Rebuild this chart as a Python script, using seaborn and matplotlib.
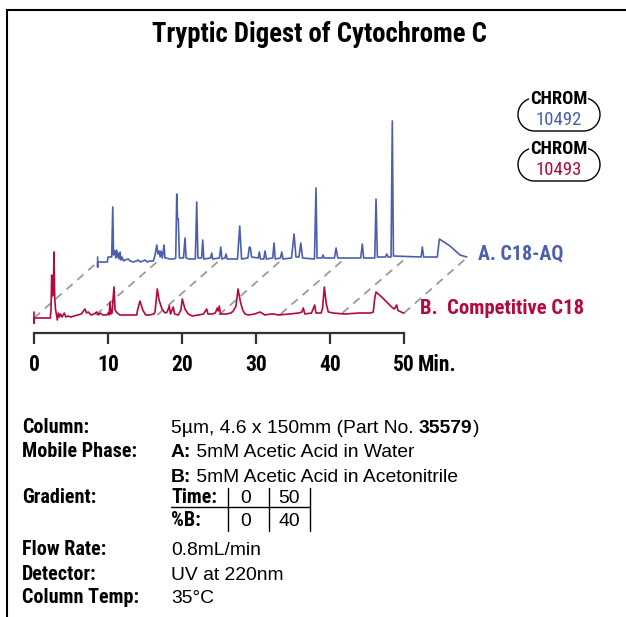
import numpy as np
import pandas as pd
import matplotlib
matplotlib.use("Agg")
import matplotlib.pyplot as plt
import seaborn as sns
from matplotlib import font_manager as fm

# ---- chromatogram data -------------------------------------------------
# Trace B: Competitive C18 (time in min, detector response)
b_time = [0, 0, 0, 2.2, 2.3, 2.39, 2.5, 2.62, 2.7, 2.8, 2.9, 3.0, 3.15, 3.3, 3.45, 3.6,
          3.8, 4.09, 4.3, 4.6, 5.0, 5.4, 5.9, 6.4, 6.89, 7.1, 7.34, 7.7, 8.1, 8.47, 8.7,
          8.92, 9.3, 9.8, 10.04, 10.15, 10.27, 10.4, 10.55, 10.81, 10.95, 11.26, 11.6,
          12.5, 13.4, 13.88, 14.0, 14.32, 14.7, 15.09, 15.6, 16.2, 16.35, 16.66, 16.9,
          17.3, 17.7, 18.0, 18.28, 18.45, 18.82, 19.0, 19.5, 19.85, 20.04, 20.4, 20.85,
          21.4, 22.2, 22.9, 23.34, 23.5, 24.1, 24.5, 24.77, 24.9, 25.04, 25.2, 26.0,
          26.6, 26.93, 27.3, 27.57, 27.9, 28.2, 28.51, 29.0, 29.8, 30.54, 31.2, 32.0,
          32.43, 33.0, 34.5, 35.8, 36.2, 36.39, 36.6, 37.5, 37.93, 38.1, 38.8, 39.0,
          39.23, 39.5, 39.77, 40.41, 42.0, 44.0, 45.5, 45.85, 46.05, 46.22, 46.99,
          47.66, 48.34, 48.69, 49.01, 49.15, 49.32, 49.91, 50.0]
b_signal = [6, -5, 0, 0, 8, 43, 22, 30, 66, 20, 9, 5, -2, 5, 1, 4,
            1, 5, 1, 2, 1, 2, 3, 4, 9, 5, 6, 3, 4, 6, 3,
            5, 3, 3, 5, 3, 16, 4, 5, 31, 8, 5, 3,
            3, 3, 3, 8, 17, 8, 3, 3, 4, 6, 29, 18,
            9, 5, 6, 12, 4, 11, 4, 3, 8, 19, 9, 4,
            2, 3, 4, 9, 4, 4, 5, 10, 7, 12, 4, 4,
            5, 7, 12, 29, 16, 8, 4, 3, 4, 6, 3, 4,
            4, 3, 4, 5, 6, 10, 4, 5, 13, 5, 5, 10,
            31, 14, 6, 5, 4, 5, 5, 6, 20, 26, 21,
            16, 11, 9, 13, 8, 7, 5, 5]

# Trace A: C18-AQ (time in min, detector response)
a_time = [0, 0, 0, 1.31, 1.4, 1.9, 2.04, 2.15, 2.25, 2.35, 2.45, 2.55, 2.65, 2.75, 2.89,
          3.03, 3.15, 3.3, 3.5, 3.7, 4.11, 4.4, 4.82, 5.2, 5.46, 5.8, 6.41, 6.7, 7.08,
          7.53, 7.76, 7.99, 8.15, 8.3, 8.45, 8.57, 8.75, 8.97, 9.1, 9.24, 9.78, 10.32,
          10.55, 10.69, 10.8, 10.9, 11.05, 11.6, 11.81, 11.95, 12.4, 13.2, 13.39, 13.55,
          14.05, 14.2, 14.35, 15.25, 15.42, 15.55, 16.45, 16.64, 16.8, 17.2, 17.35, 17.5,
          18.9, 19.2, 19.45, 20.3, 20.5, 20.65, 20.8, 21.7, 21.85, 22.0, 22.45, 22.62,
          22.8, 23.65, 23.84, 24.0, 24.7, 24.88, 25.05, 26.2, 26.54, 26.8, 27.2, 27.45,
          27.7, 29.3, 29.51, 29.65, 30.3, 30.46, 30.6, 32.0, 32.22, 32.45, 35.55, 35.77,
          35.95, 37.45, 37.62, 37.8, 38.9, 39.07, 39.25, 39.65, 39.82, 39.97, 43.7, 43.88,
          44.05, 45.9, 46.18, 47.62, 48.97, 49.88]
a_signal = [6, -4, 1, 1, 6, 6, 56, 8, 12, 11, 5, 13, 6, 10, 4,
            11, 3, 6, 2, 3, 4, 2, 1, 2, 3, 1, 3, 1, 2,
            2, 8, 18, 9, 12, 6, 12, 5, 18, 5, 5, 4, 4,
            5, 69, 44, 44, 5, 5, 25, 5, 4, 4, 61, 5,
            5, 23, 4, 5, 10, 4, 5, 16, 4, 5, 9, 4,
            4, 37, 4, 5, 16, 15, 6, 5, 11, 4, 4, 12,
            4, 5, 20, 4, 5, 11, 4, 5, 29, 6, 6, 20,
            5, 4, 75, 5, 5, 8, 5, 5, 15, 5, 5, 19,
            5, 5, 64, 6, 6, 9, 6, 6, 142, 7, 6, 16,
            6, 6, 24, 17, 8, 6]

# stacking offset of trace A behind trace B
a_time_shift = 8.6
a_signal_shift = 55

# dashed perspective guides joining the two baselines
guide_times = [0, 8.33, 16.67, 25, 33.33, 41.67, 50]
guide_base_b = [0, 3, 3, 3, 4, 5, 5]
guide_base_a = [1, 3, 4, 4, 4, 5, 6]

x_ticks = [0, 10, 20, 30, 40, 50]

grad_time = [0, 50]
grad_pct_b = [0, 40]

BLUE = "#4c5fae"
RED = "#b20a3a"


def pick_family(candidates, fallback):
    have = {f.name for f in fm.fontManager.ttflist}
    for c in candidates:
        if c in have:
            return c
    return fallback


NARROW = pick_family(["Roboto Condensed", "Archivo Narrow", "PT Sans Narrow",
                      "Liberation Sans Narrow", "Fira Sans Condensed",
                      "IBM Plex Sans Condensed", "Encode Sans Condensed",
                      "Barlow Semi Condensed", "Roboto"], "DejaVu Sans")
REG = pick_family(["Liberation Sans", "Arimo"], "DejaVu Sans")

sns.set_theme(style="white")
plt.rcParams["font.family"] = [NARROW, "DejaVu Sans"]
plt.rcParams["text.color"] = "black"
plt.rcParams["xtick.color"] = "black"

W, H = 626, 617
fig = plt.figure(figsize=(W / 100, H / 100), dpi=100)

# pixel-space overlay for frame and text
ov = fig.add_axes([0, 0, 1, 1])
ov.set_xlim(0, W)
ov.set_ylim(H, 0)
ov.axis("off")

# chromatogram axes
px_per_min = 7.4
x0_px = 34
left_px, right_px, top_px, bot_px = 20, 600, 100, 333
ax = fig.add_axes([left_px / W, 1 - bot_px / H, (right_px - left_px) / W, (bot_px - top_px) / H])
ax.patch.set_visible(False)
ax.set_xlim((left_px - x0_px) / px_per_min, (right_px - x0_px) / px_per_min)
ax.set_ylim(-15, 318 - top_px)

trace_b = pd.DataFrame({"time": b_time, "signal": b_signal, "column": "B"})
trace_a = pd.DataFrame({"time": np.array(a_time) + a_time_shift,
                        "signal": np.array(a_signal) + a_signal_shift, "column": "A"})
traces = pd.concat([trace_a, trace_b], ignore_index=True)

for i, t in enumerate(guide_times):
    ax.plot([t, t + a_time_shift], [guide_base_b[i], guide_base_a[i] + a_signal_shift],
            color="#9a9a9a", lw=1.3, ls=(0, (4.5, 3.5)), zorder=1)

sns.lineplot(data=traces, x="time", y="signal", hue="column", units="column",
             estimator=None, sort=False, palette={"A": BLUE, "B": RED},
             linewidth=1.2, legend=False, ax=ax, zorder=3)

for s in ["top", "right", "left"]:
    ax.spines[s].set_visible(False)
ax.spines["bottom"].set_bounds(0, 50)
ax.spines["bottom"].set_color("#333333")
ax.spines["bottom"].set_linewidth(1.6)
ax.set_xticks(x_ticks)
ax.set_xticklabels([str(v) for v in x_ticks])
ax.set_yticks([])
ax.set_xlabel("")
ax.set_ylabel("")
ax.tick_params(axis="x", direction="out", length=8, width=1.6, color="#333333",
               pad=7, labelsize=15.5, bottom=True, labelcolor="black")
for lab in ax.get_xticklabels():
    lab.set_fontweight("bold")
ov.text(418, 371, "Min.", fontsize=15.5, fontweight="bold", ha="left", va="baseline")

# frame
ov.plot([7, 7], [10, H], color="black", lw=1.5)
ov.plot([7, W], [10, 10], color="black", lw=1.5)

# title
ov.text(319, 42, "Tryptic Digest of Cytochrome C", fontsize=19.3, fontweight="bold",
        ha="center", va="baseline")

# trace labels
ov.text(478, 260, "A. C18-AQ", fontsize=14.4, fontweight="bold", color=BLUE, va="baseline")
ov.text(420, 314, "B.  Competitive C18", fontsize=14.9, fontweight="bold", color=RED, va="baseline")


# CHROM badges: stadium outline with the caption sitting on its top edge
def stadium(x0, y0, w, h):
    r = h / 2
    a1 = np.linspace(-np.pi / 2, np.pi / 2, 40)
    a2 = np.linspace(np.pi / 2, 3 * np.pi / 2, 40)
    xs = np.concatenate([x0 + w - r + r * np.cos(a1), x0 + r + r * np.cos(a2), [x0 + w - r]])
    ys = np.concatenate([y0 + r + r * np.sin(a1), y0 + r + r * np.sin(a2), [y0]])
    return xs, ys


for yc, num, col in [(98, "10492", BLUE), (148, "10493", RED)]:
    xs, ys = stadium(518, yc, 82, 33)
    ov.plot(xs, ys, color="black", lw=1.0)
    ov.text(558.5, yc + 6, "CHROM", fontsize=13.3, fontweight="bold", ha="center", va="baseline",
            bbox=dict(fc="white", ec="none", pad=0.5))
    ov.text(559, yc + 27, num, fontsize=13.5, color=col, ha="center", va="baseline")

# method details
lab_x, val_x = 22, 171
lfs, vfs = 14.5, 13.9
rows = [(433, "Column:"), (457, "Mobile Phase:"), (503, "Gradient:"),
        (555, "Flow Rate:"), (580, "Detector:"), (603, "Column Temp:")]
for y, s in rows:
    ov.text(lab_x, y, s, fontsize=lfs, fontweight="bold", va="baseline")

fig.canvas.draw()
rend = fig.canvas.get_renderer()


def val(x, y, s, bold=False, ha="left"):
    return ov.text(x, y, s, fontsize=vfs, va="baseline", ha=ha, family=REG,
                   fontweight="bold" if bold else "normal")


def run(x, y, parts):
    # write consecutive text pieces, each starting where the previous one ends
    for s, bold in parts:
        t = val(x, y, s, bold)
        bb = t.get_window_extent(rend)
        x = ov.transData.inverted().transform((bb.x1, 0))[0]


run(val_x, 433, [("5µm, 4.6 x 150mm (Part No. ", False), ("35579", True), (")", False)])
run(val_x, 457, [("A:", True), (" 5mM Acetic Acid in Water", False)])
run(val_x, 482, [("B:", True), (" 5mM Acetic Acid in Acetonitrile", False)])

# gradient table
ov.text(val_x, 503, "Time:", fontsize=lfs, fontweight="bold", va="baseline")
ov.text(val_x, 526, "%B:", fontsize=lfs, fontweight="bold", va="baseline")
col_x = [246, 289]
for cx, tv, pv in zip(col_x, grad_time, grad_pct_b):
    val(cx, 503, str(tv), ha="center")
    val(cx, 526, str(pv), ha="center")
ov.plot([171, 310], [507, 507], color="black", lw=1.0)
for vx in [228, 268.5, 310]:
    ov.plot([vx, vx], [488, 531], color="black", lw=1.0)

val(val_x, 555, "0.8mL/min")
val(val_x, 580, "UV at 220nm")
val(val_x, 603, "35°C")

fig.savefig("out.png", dpi=100)
